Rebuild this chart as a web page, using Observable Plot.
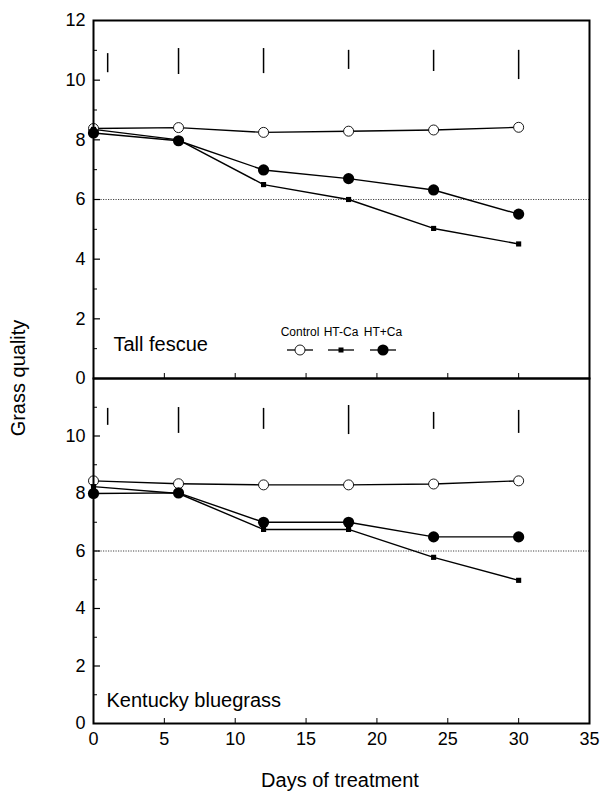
<!DOCTYPE html>
<html>
<head>
<meta charset="utf-8">
<script src="https://cdn.jsdelivr.net/npm/d3@7"></script>
<script src="https://cdn.jsdelivr.net/npm/@observablehq/plot@0.6"></script>
<style>
  body { margin: 0; background: #fff; }
  #wrap { position: relative; width: 601px; height: 795px; font-family: "Liberation Sans", Arial, sans-serif; }
  #top, #bottom, #overlay { position: absolute; left: 0; }
  #top { top: 0; }
  #bottom { top: 378px; }
  #overlay { top: 0; pointer-events: none; }
</style>
</head>
<body>
<div id="wrap">
  <div id="top"></div>
  <div id="bottom"></div>
  <svg id="overlay" width="601" height="795"></svg>
</div>
<script>
// ---- data ----
const days = [0, 6, 12, 18, 24, 30];
const seriesNames = ["Control", "HT-Ca", "HT+Ca"];

const tfControl = [8.38, 8.41, 8.25, 8.29, 8.33, 8.42];
const tfMinusCa = [8.35, 8.00, 6.50, 6.00, 5.03, 4.51];
const tfPlusCa  = [8.23, 7.97, 6.99, 6.70, 6.32, 5.51];

const kbControl = [8.44, 8.34, 8.30, 8.30, 8.33, 8.44];
const kbMinusCa = [8.24, 8.00, 6.75, 6.75, 5.78, 4.98];
const kbPlusCa  = [8.00, 8.02, 7.00, 7.00, 6.49, 6.49];

// LSD bars
const barDays = [1, 6, 12, 18, 24, 30];
const tfBarLo = [10.25, 10.19, 10.22, 10.36, 10.29, 10.02];
const tfBarHi = [10.89, 11.06, 11.06, 11.00, 11.00, 11.00];
const kbBarLo = [10.37, 10.09, 10.23, 10.05, 10.23, 10.09];
const kbBarHi = [10.96, 10.99, 10.96, 11.06, 10.82, 10.89];

const referenceLine = [6];
const panelNames = ["Tall fescue", "Kentucky bluegrass"];
const yLabelsTop = [0, 2, 4, 6, 8, 10, 12];
const yLabelsBottom = [0, 2, 4, 6, 8, 10];
const yMajor = [2, 4, 6, 8, 10];
const yMinor = [1, 3, 5, 7, 9, 11];
const xLabels = [0, 5, 10, 15, 20, 25, 30, 35];
const xInner = [5, 10, 15, 20, 25, 30];

// ---- build tables ----
function table(ctrl, minus, plus) {
  const rows = [];
  [ctrl, minus, plus].forEach((arr, i) => arr.forEach((v, j) => rows.push({day: days[j], value: v, series: seriesNames[i]})));
  return rows;
}
function bars(lo, hi) { return barDays.map((d, i) => ({day: d, lo: lo[i], hi: hi[i]})); }

const FONT = '"Liberation Sans", Arial, sans-serif';

function panel(rows, barRows, label, opts) {
  return Plot.plot({
    width: 601,
    height: opts.height,
    marginLeft: 93,
    marginRight: 12,
    marginTop: opts.marginTop,
    marginBottom: opts.marginBottom,
    style: {fontFamily: FONT, fontSize: "18px", color: "black", background: "transparent", overflow: "visible"},
    x: {domain: [0, 35]},
    y: {domain: [0, 12]},
    marks: [
      Plot.ruleY(referenceLine, {stroke: "#444", strokeWidth: 1, strokeDasharray: "1.2,1.3"}),
      Plot.ruleX(barRows, {x: "day", y1: "lo", y2: "hi", stroke: "black", strokeWidth: 1.5}),
      Plot.line(rows, {x: "day", y: "value", z: "series", stroke: "black", strokeWidth: 1.4}),
      Plot.dot(rows.filter(d => d.series === "Control"), {x: "day", y: "value", r: 5, fill: "white", stroke: "black", strokeWidth: 0.9}),
      Plot.dot(rows.filter(d => d.series === "HT-Ca"), {x: "day", y: "value", symbol: "square", r: 2.9, fill: "black", stroke: "none"}),
      Plot.dot(rows.filter(d => d.series === "HT+Ca"), {x: "day", y: "value", r: 5.6, fill: "black", stroke: "none"}),
      Plot.axisY(opts.yLabels, {tickSize: 0, tickPadding: 8, fontSize: 18, label: null}),
      Plot.axisY(yMajor, {tickSize: -7, text: null, label: null, strokeWidth: 1.2}),
      Plot.axisY(yMinor, {tickSize: -4, text: null, label: null, strokeWidth: 1}),
      Plot.axisX(xInner, {tickSize: -5, text: null, label: null, strokeWidth: 1}),
      ...(opts.xLabels ? [Plot.axisX(xLabels, {tickSize: 0, tickPadding: 9, fontSize: 18, label: null})] : []),
      Plot.text([label], {frameAnchor: "bottom-left", dx: opts.labelDx, dy: opts.labelDy, textAnchor: "start", lineAnchor: "bottom", fontSize: 20, fill: "black"}),
      Plot.frame({stroke: "black", strokeWidth: 2})
    ]
  });
}

document.getElementById("top").append(panel(table(tfControl, tfMinusCa, tfPlusCa), bars(tfBarLo, tfBarHi), panelNames[0],
  {height: 380, marginTop: 20, marginBottom: 2, yLabels: yLabelsTop, xLabels: false, labelDx: 20, labelDy: -28}));
document.getElementById("bottom").append(panel(table(kbControl, kbMinusCa, kbPlusCa), bars(kbBarLo, kbBarHi), panelNames[1],
  {height: 417, marginTop: 0, marginBottom: 72, yLabels: yLabelsBottom, xLabels: true, labelDx: 13, labelDy: -17}));

// ---- overlay: axis titles and legend ----
const ov = d3.select("#overlay").style("font-family", FONT);
ov.append("text").attr("transform", "translate(25,378) rotate(-90)").attr("text-anchor", "middle")
  .attr("font-size", 20).text("Grass quality");
ov.append("text").attr("x", 340).attr("y", 787).attr("text-anchor", "middle")
  .attr("font-size", 20).text("Days of treatment");

const legendX = [300, 341, 383];
const lg = ov.append("g");
seriesNames.forEach((name, i) => {
  const cx = legendX[i];
  lg.append("text").attr("x", cx).attr("y", 336).attr("text-anchor", "middle").attr("font-size", 12).text(name);
  lg.append("line").attr("x1", cx - 13).attr("x2", cx + 13).attr("y1", 350).attr("y2", 350).attr("stroke", "black").attr("stroke-width", 1.3);
  if (i === 0) lg.append("circle").attr("cx", cx).attr("cy", 350).attr("r", 5).attr("fill", "white").attr("stroke", "black").attr("stroke-width", 0.9);
  if (i === 1) lg.append("rect").attr("x", cx - 2.5).attr("y", 347.5).attr("width", 5).attr("height", 5).attr("fill", "black");
  if (i === 2) lg.append("circle").attr("cx", cx).attr("cy", 350).attr("r", 5.6).attr("fill", "black");
});
</script>
</body>
</html>
